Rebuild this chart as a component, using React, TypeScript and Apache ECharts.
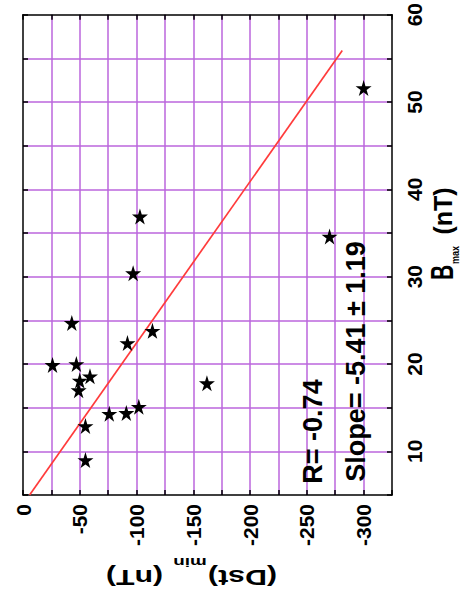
import React, { useEffect, useRef } from "react";
import * as echarts from "echarts";

// Storm events: minimum Dst index vs. maximum IMF magnitude
const dstMin = [-300, -103, -270, -97, -43, -114, -92, -26, -47, -59, -50, -162, -49, -76, -91, -102, -55, -55];
const bMax = [51.6, 36.9, 34.6, 30.4, 24.7, 23.8, 22.4, 19.9, 20.0, 18.6, 18.1, 17.8, 17.0, 14.3, 14.4, 15.1, 12.9, 9.0];

// Least-squares fit line end points
const fitDst = [-5.8, -281.2];
const fitB = [5, 55.9];

// Labelled ticks
const dstTickLabels = [0, -50, -100, -150, -200, -250, -300];
const bTickLabels = [10, 20, 30, 40, 50, 60];

const rValue = "R= -0.74";
const slopeValue = "Slope= -5.41 \u00b1 1.19";

const FONT = "'Liberation Sans', Arial, Helvetica, sans-serif";
const GRID_COLOR = "#bb66dd";
const STAR =
  "path://M50,0 L61,35 L98,35 L68,57 L79,91 L50,70 L21,91 L32,57 L2,35 L39,35 Z";

export default function App() {
  const ref = useRef<HTMLDivElement>(null);

  useEffect(() => {
    if (!ref.current) return;
    const chart = echarts.init(ref.current, undefined, { renderer: "svg" });

    const labelStyle = {
      color: "#000",
      fontFamily: FONT,
      fontWeight: "bold" as const,
      fontSize: 21,
      rotate: 90,
    };

    const frameLine = { show: true, onZero: false, lineStyle: { color: "#000", width: 1.5 } };
    const innerTick = { show: true, inside: true, length: 5, lineStyle: { color: "#000", width: 1.5 } };

    const xBase = { type: "value" as const, inverse: true, min: -325, max: 0, interval: 25 };
    const yBase = { type: "value" as const, min: 5, max: 60, interval: 5 };

    const text = (
      t: string,
      x: number,
      y: number,
      size: number,
      rotation: number,
      scaleX = 1,
      scaleY = 1
    ) => ({
      type: "text" as const,
      x,
      y,
      rotation,
      scaleX,
      scaleY,
      z: 100,
      style: {
        text: t,
        fill: "#000",
        fontFamily: FONT,
        fontWeight: "bold",
        fontSize: size,
        align: "center",
        verticalAlign: "middle",
      },
    });

    chart.setOption({
      animation: false,
      backgroundColor: "#fff",
      grid: { left: 23, right: 71, top: 14, bottom: 111, containLabel: false },
      xAxis: [
        {
          ...xBase,
          position: "bottom",
          axisLine: frameLine,
          axisTick: innerTick,
          axisLabel: {
            ...labelStyle,
            margin: 9,
            formatter: (v: number) => (dstTickLabels.includes(v) ? String(v) : ""),
          },
          splitLine: {
            show: true,
            showMinLine: false,
            showMaxLine: false,
            lineStyle: { color: GRID_COLOR, width: 1.5 },
          },
        },
        {
          ...xBase,
          position: "top",
          axisLine: frameLine,
          axisTick: innerTick,
          axisLabel: { show: false },
          splitLine: { show: false },
        },
      ],
      yAxis: [
        {
          ...yBase,
          position: "right",
          axisLine: frameLine,
          axisTick: innerTick,
          axisLabel: {
            ...labelStyle,
            margin: 12,
            formatter: (v: number) => (bTickLabels.includes(v) ? String(v) : ""),
          },
          splitLine: {
            show: true,
            showMinLine: false,
            showMaxLine: false,
            lineStyle: { color: GRID_COLOR, width: 1.5 },
          },
        },
        {
          ...yBase,
          position: "left",
          axisLine: frameLine,
          axisTick: innerTick,
          axisLabel: { show: false },
          splitLine: { show: false },
        },
      ],
      series: [
        {
          type: "line",
          xAxisIndex: 0,
          yAxisIndex: 0,
          data: fitDst.map((d, i) => [d, fitB[i]]),
          symbol: "none",
          lineStyle: { color: "#ff3b3b", width: 1.7 },
          silent: true,
          z: 3,
        },
        {
          type: "scatter",
          xAxisIndex: 0,
          yAxisIndex: 0,
          data: dstMin.map((d, i) => [d, bMax[i]]),
          symbol: STAR,
          symbolSize: 16,
          itemStyle: { color: "#000", opacity: 1 },
          z: 4,
        },
      ],
      graphic: [
        // annotations
        text(rValue, 313, 431.5, 27, Math.PI / 2),
        text(slopeValue, 356, 361.5, 27, Math.PI / 2),
        // B_max (nT) axis title
        text("B", 442.5, 272.5, 21, Math.PI / 2, 1, 1.45),
        text("max", 455.5, 255, 9, Math.PI / 2, 1, 1.25),
        text("(nT)", 442.5, 211, 25, Math.PI / 2, 1, 1.05),
        // (Dst)_min (nT) axis title, upside down
        text("(Dst)", 242.5, 577.5, 22, Math.PI, 1.38, 1),
        text("min", 190, 562.5, 13, Math.PI, 1.45, 1),
        text("(nT)", 134.5, 577.5, 22, Math.PI, 1.37, 1),
      ],
    });

    return () => chart.dispose();
  }, []);

  return (
    <div
      ref={ref}
      style={{ position: "fixed", left: 0, top: 0, width: 463, height: 606, background: "#fff" }}
    />
  );
}
